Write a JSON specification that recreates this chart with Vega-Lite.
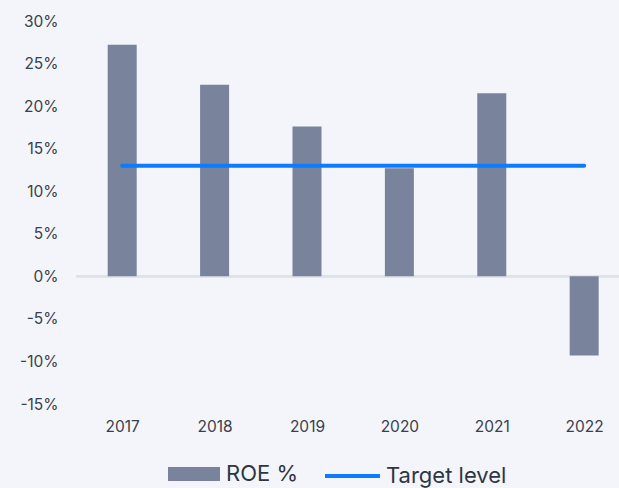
{
  "$schema": "https://vega.github.io/schema/vega-lite/v6.json",
  "width": 543,
  "height": 383,
  "autosize": {"type": "none"},
  "padding": {"left": 76, "top": 21, "right": 0, "bottom": 84},
  "background": "#f3f5fa",
  "config": {
    "view": {"stroke": null},
    "font": "Inter",
    "axis": {"labelFont": "Inter", "labelColor": "#3a404c", "labelFontSize": 15.5, "grid": false, "domain": false, "ticks": false, "title": null},
    "legend": {"labelFont": "Inter", "labelColor": "#2f3542", "labelFontSize": 22, "orient": "none", "direction": "horizontal", "title": null, "padding": 0}
  },
  "data": {
    "values": [
      {"year": 2017, "roe": 27.2, "target": 13},
      {"year": 2018, "roe": 22.5, "target": 13},
      {"year": 2019, "roe": 17.6, "target": 13},
      {"year": 2020, "roe": 12.7, "target": 13},
      {"year": 2021, "roe": 21.5, "target": 13},
      {"year": 2022, "roe": -9.3, "target": 13}
    ]
  },
  "layer": [
    {
      "mark": {"type": "rule", "color": "#dde1e8", "strokeWidth": 2},
      "encoding": {"y": {"datum": 0, "type": "quantitative", "scale": {"domain": [-15, 30]}}}
    },
    {
      "mark": {"type": "bar", "width": 29},
      "encoding": {
        "x": {"field": "year", "type": "quantitative", "scale": {"domain": [2016.5, 2022.377], "nice": false, "zero": false, "padding": 0},
              "axis": {"values": [2017, 2018, 2019, 2020, 2021, 2022], "format": "d", "labelPadding": 15}},
        "y": {"field": "roe", "type": "quantitative", "scale": {"domain": [-15, 30], "nice": false},
              "axis": {"values": [-15, -10, -5, 0, 5, 10, 15, 20, 25, 30], "labelExpr": "datum.value + '%'", "labelPadding": 18}},
        "fill": {"datum": "ROE %", "scale": {"range": ["#79839b"]},
                 "legend": {"symbolType": "M-1,-0.27H1V0.27H-1Z", "symbolSize": 2704, "symbolStrokeWidth": 0, "symbolOpacity": 1, "labelOffset": 6, "legendX": 92, "legendY": 427}}
      }
    },
    {
      "mark": {"type": "line", "strokeWidth": 4, "strokeCap": "round"},
      "encoding": {
        "x": {"field": "year", "type": "quantitative"},
        "y": {"field": "target", "type": "quantitative"},
        "stroke": {"datum": "Target level", "scale": {"range": ["#0b7bff"]},
                   "legend": {"symbolType": "stroke", "symbolSize": 3025, "symbolStrokeWidth": 4, "labelOffset": 4, "legendX": 247, "legendY": 425.5}}
      }
    }
  ]
}
